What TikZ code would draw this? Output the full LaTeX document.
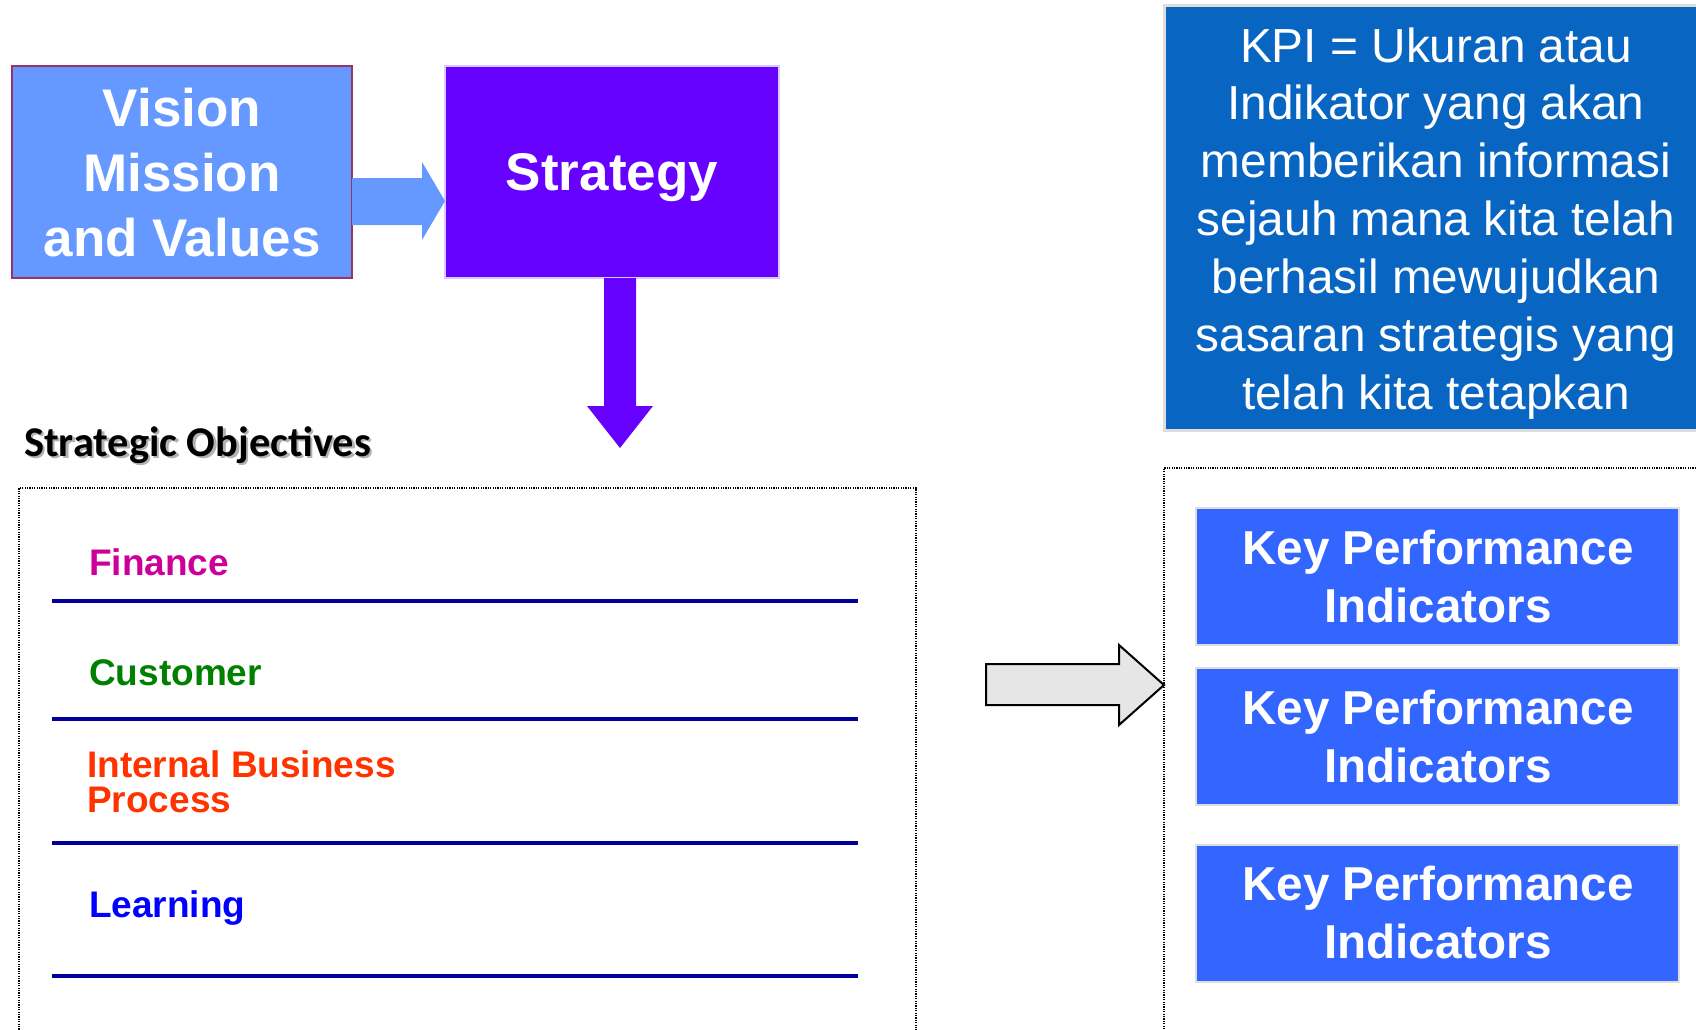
\documentclass[tikz,border=0pt]{standalone}
\usepackage{fontspec}
\setmainfont{Liberation Sans}
\newfontfamily\calibrifont{Carlito}
\usetikzlibrary{calc}
\definecolor{vmvblue}{HTML}{6699FF}
\definecolor{vmvedge}{HTML}{993366}
\definecolor{stratviolet}{HTML}{6600FF}
\definecolor{stratedge}{HTML}{D6CCFF}
\definecolor{kpinote}{HTML}{0865C2}
\definecolor{kpiblue}{HTML}{3366FF}
\definecolor{paleedge}{HTML}{DEDEDE}
\definecolor{rulenavy}{HTML}{000099}
\definecolor{finmag}{HTML}{CC0099}
\definecolor{custgreen}{HTML}{008000}
\definecolor{ibporange}{HTML}{FF3300}
\definecolor{learnblue}{HTML}{0000FF}
\definecolor{arrowgray}{HTML}{E6E6E6}
\begin{document}
\begin{tikzpicture}[x=1pt,y=-1pt,
  panel/.style={rectangle, inner sep=0pt, outer sep=0pt},
  dotbox/.style={panel, draw=black, line width=1.2pt, dash pattern=on 1.2pt off 1.2pt},
  headtxt/.style={text=white, font=\fontsize{53}{64}\selectfont\bfseries, inner sep=0pt, anchor=base},
  kpitxt/.style={text=white, font=\fontsize{47.6}{58}\selectfont\bfseries, inner sep=0pt, anchor=base},
  notetxt/.style={text=white, font=\fontsize{47.8}{57}\selectfont, inner sep=0pt, anchor=base},
  perspective/.style={font=\fontsize{37}{36}\selectfont\bfseries, inner sep=0pt, anchor=base west},
  sorule/.style={draw=rulenavy, line width=4pt},
  sofont/.style={font=\calibrifont\bfseries\fontsize{42.4}{50}\selectfont, inner sep=0pt, anchor=base west},
]
\useasboundingbox (0,0) rectangle (1696,1029);
\clip (0,0) rectangle (1696,1029);

% --- top row: vision box and strategy box
\node[panel, fill=vmvblue, draw=vmvedge, line width=1.2pt,
      minimum width=340pt, minimum height=212pt] (vmv) at (182,172) {};
\node[headtxt] (vmv1) at (182,126) {Vision};
\node[headtxt] (vmv2) at (182,191) {Mission};
\node[headtxt] (vmv3) at (182,256) {and Values};

\node[panel, fill=stratviolet, draw=stratedge, line width=1.2pt,
      minimum width=334pt, minimum height=212pt] (strat) at (612,172) {};
\node[headtxt] (strattxt) at (612,190) {Strategy};

% block arrow: vision -> strategy
\fill[vmvblue] (vmv.east |- 0,178) -- (422,178) -- (422,162)
  -- (strat.west |- 0,201) -- (422,240) -- (422,225)
  -- (vmv.east |- 0,225) -- cycle;

% block arrow: strategy -> objectives
\fill[stratviolet] (604,0 |- strat.south) -- (604,406) -- (587,406)
  -- (620,448) -- (653,406) -- (636,406) -- (636,0 |- strat.south) -- cycle;

% --- KPI definition note
\node[panel, fill=kpinote, draw=paleedge, line width=3pt,
      minimum width=536pt, minimum height=425pt] (note) at (1432,217.5) {};
\foreach \t [count=\i] in {KPI = Ukuran atau, Indikator yang akan,
    memberikan informasi, sejauh mana kita telah, berhasil mewujudkan,
    sasaran strategis yang, telah kita tetapkan}
  \node[notetxt] (note\i) at (1436,{62+(\i-1)*57.9}) {\t};

% --- strategic objectives
\node[sofont, text=black!30] (sotitleshadow) at (26.5,458.5) {Strategic Objectives};
\node[sofont, text=black] (sotitle) at (24,456) {Strategic Objectives};

\node[dotbox, minimum width=897pt, minimum height=560pt] (sobox) at (467.5,768) {};

\node[perspective, text=finmag] (fin) at (89,575) {Finance};
\draw[sorule] (52,601) -- (858,601);
\node[perspective, text=custgreen] (cust) at (89,685) {Customer};
\draw[sorule] (52,719) -- (858,719);
\node[perspective, text=ibporange] (ibp1) at (87,777) {Internal Business};
\node[perspective, text=ibporange] (ibp2) at (87,812) {Process};
\draw[sorule] (52,843) -- (858,843);
\node[perspective, text=learnblue] (learn) at (89,917) {Learning};
\draw[sorule] (52,976) -- (858,976);

% --- KPI group
\node[dotbox, minimum width=540pt, minimum height=580pt] (kpibox) at (1434,758) {};

\foreach \c [count=\i] in {576.5,736.5,913} {
  \node[panel, fill=kpiblue, draw=paleedge, line width=2pt,
        minimum width=483pt, minimum height=137pt] (kpi\i) at (1437.5,\c) {};
  \node[kpitxt] (kpiA\i) at (1438,\c-12.5) {Key Performance};
  \node[kpitxt] (kpiB\i) at (1438,\c+45.5) {Indicators};
}

% hollow arrow: objectives -> KPIs
\coordinate (tail) at (986,685);
\draw[fill=arrowgray, line width=2pt, line join=miter]
  (tail |- 0,664) -- (1119,664) -- (1119,645) -- (kpibox.west |- 0,685)
  -- (1119,725) -- (1119,705) -- (tail |- 0,705) -- cycle;
\end{tikzpicture}
\end{document}
